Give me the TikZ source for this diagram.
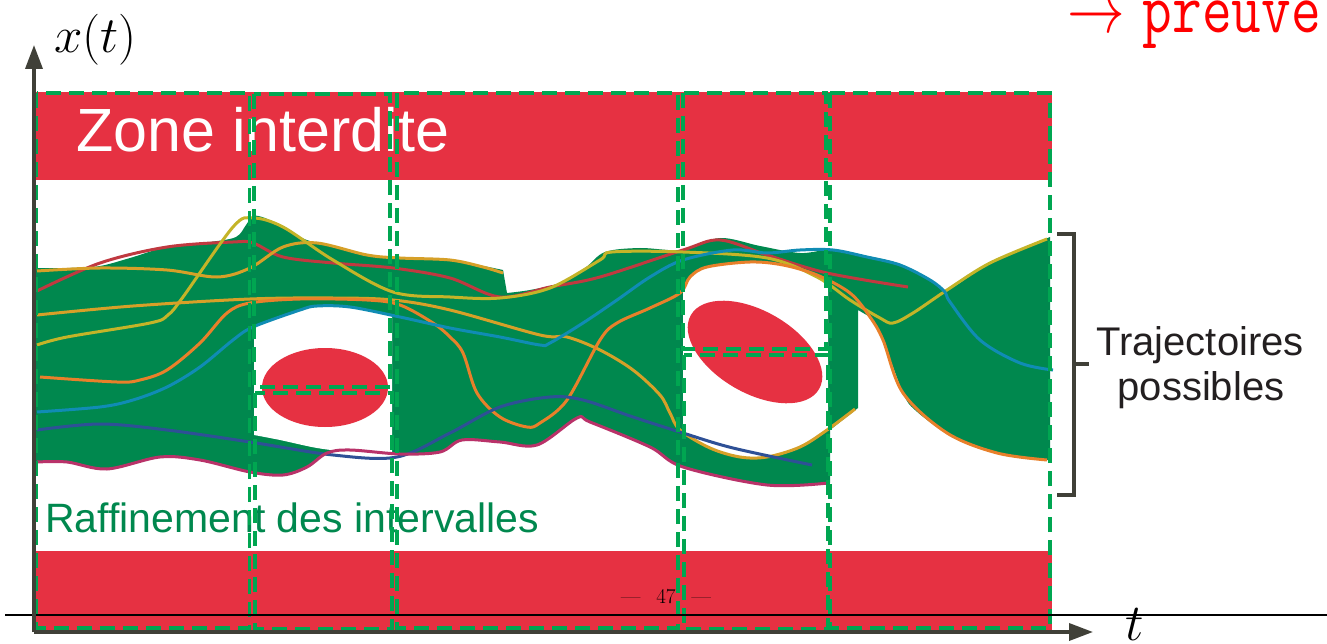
\RequirePackage{fix-cm}
\documentclass[tikz,border=0pt]{standalone}
\usepackage{graphicx}
\usepackage{fontspec}
\newfontfamily\arialf{Liberation Sans}
\usetikzlibrary{arrows.meta}
\definecolor{bandred}{RGB}{230,49,66}
\definecolor{tubegreen}{RGB}{0,136,78}
\definecolor{dashgreen}{RGB}{0,166,81}
\definecolor{axisgray}{RGB}{64,64,56}
\definecolor{txtgray}{RGB}{35,31,32}
\definecolor{cred}{RGB}{192,57,64}
\definecolor{cochre}{RGB}{214,160,40}
\definecolor{cyel}{RGB}{196,180,40}
\definecolor{corange}{RGB}{232,128,42}
\definecolor{cblue}{RGB}{16,140,180}
\definecolor{cnavy}{RGB}{46,80,150}
\definecolor{cmag}{RGB}{185,50,105}
\newcommand\setfs[1]{\fontsize{#1}{#1}\selectfont}
\begin{document}
\begin{tikzpicture}[x=1pt,y=-1pt,
  band/.style={fill=bandred},
  curve/.style={line width=3pt},
  sm/.style={smooth,tension=0.55},
  ibox/.style={draw=dashgreen,line width=3.2pt,dash pattern=on 15pt off 8pt},
  axis/.style={draw=axisgray,line width=3.6pt,-{Triangle[length=24pt,width=17pt]}},
  bracket/.style={draw=axisgray,line width=4.5pt}]
\useasboundingbox (0,0) rectangle (1327,644);
% forbidden zones
\fill[band] (36,92) rectangle (1052,180);
\fill[band] (36,551) rectangle (1052,631);
% tube of trajectories
\fill[tubegreen] plot[sm] coordinates {(36,268) (70,268) (100,266) (130,258) (167,247) (210,242) (236,237) (246,225) (253,216) (265,218) (283,227) (300,237) (317,243) (367,254) (400,258) (450,261) (483,266) (503,270)}
 -- (507,293)
 -- plot[sm] coordinates {(507,293) (530,290) (560,283) (585,268) (605,252) (640,248) (683,250) (720,238) (760,246) (800,253) (830,250) (867,256) (900,264) (930,279) (947,290) (990,263) (1050,237)}
 -- (1050,460)
 -- plot[sm] coordinates {(1047,460) (997,453) (947,433) (915,410) (903,393) (883,340) (870,317)}
 -- (858,310) -- (858,408) -- (830,430) -- (830,483)
 -- plot[sm] coordinates {(828,483) (767,485) (683,467) (650,447) (590,422) (577,418) (537,445) (500,442) (462,440) (440,452) (400,454) (350,450) (327,453) (307,467) (283,475) (250,472) (200,460) (160,457) (107,469) (67,462) (36,462)}
 -- cycle;
% holes
\fill[white] plot[sm] coordinates {(254,328) (275,318) (300,310) (317,306) (350,307) (392,316)}
 -- (392,455) -- plot[sm] coordinates {(392,455) (350,452) (317,448) (280,440) (254,435)} -- cycle;
\fill[white] plot[sm] coordinates {(683,291) (690,277) (707,267) (750,262) (783,265) (817,275) (828,281)}
 -- (828,430) -- plot[sm] coordinates {(828,430) (800,447) (767,457) (740,457) (710,448) (683,433)} -- cycle;
% obstacles
\fill[bandred] (325,387.5) ellipse [x radius=63, y radius=39.5];
\fill[bandred, shift={(755,352)}, rotate=-30] (0,0) ellipse [x radius=74, y radius=41];
% trajectories
\draw[curve,cred] plot[sm] coordinates {(37,291) (100,263) (167,247) (233,242) (253,243) (283,257) (333,263) (393,268) (450,278) (500,297) (550,287) (600,277) (683,250) (720,240) (767,255) (827,273) (908,287)};
\draw[curve,cochre] plot[sm] coordinates {(37,271) (100,268) (167,270) (217,277) (250,268) (283,247) (317,243) (367,255) (400,258) (450,260) (483,267) (503,273)};
\draw[curve,cyel] plot[sm] coordinates {(37,345) (67,337) (150,323) (168,315) (183,297) (233,227) (253,218) (283,227) (333,260) (393,292) (450,297) (500,298) (550,288) (600,260) (612,252) (683,252) (767,258) (817,277) (850,300) (880,318) (893,323) (913,313) (947,290) (990,263) (1047,239)};
\draw[curve,cochre] plot[sm] coordinates {(37,315) (133,306) (250,299) (333,298) (393,300) (450,310) (540,335) (567,337) (600,350) (633,370) (660,395) (670,413) (680,430) (710,448) (740,457) (767,457) (800,447) (827,430) (855,409)};
\draw[curve,corange] plot[sm] coordinates {(40,377) (117,382) (140,380) (167,370) (200,343) (227,313) (250,303) (300,299) (367,300) (400,305) (433,323) (450,337) (463,353) (477,393) (500,417) (527,427) (540,423) (567,400) (600,340) (617,323) (650,308) (680,293) (690,277) (707,267) (750,262) (783,265) (817,275) (850,293) (870,317) (883,340) (903,393) (947,433) (997,453) (1047,460)};
\draw[curve,cblue] plot[sm] coordinates {(37,412) (100,407) (133,400) (167,387) (200,367) (233,340) (253,327) (300,310) (317,306) (350,307) (400,317) (450,328) (500,337) (540,345) (550,343) (583,323) (617,300) (650,277) (683,260) (733,250) (767,253) (800,250) (833,250) (867,257) (900,265) (930,280) (945,292) (950,302) (980,340) (1020,363) (1053,370)};
\draw[curve,cnavy] plot[sm] coordinates {(37,430) (100,424) (167,430) (250,442) (333,455) (397,457) (450,433) (500,407) (550,397) (583,400) (633,417) (683,433) (733,448) (812,465)};
\draw[curve,cmag] plot[sm] coordinates {(37,462) (67,462) (107,469) (160,457) (200,460) (250,472) (283,475) (307,467) (327,453) (350,450) (400,454) (440,452) (462,440) (500,442) (537,445) (577,418) (590,422) (650,447) (683,467) (767,485) (828,483)};
% texts
\node[anchor=base west,inner sep=0pt,text=white,font=\arialf\setfs{61}] (zone) at (76,152) {Zone interdite};
\node[anchor=base west,inner sep=0pt,text=tubegreen,font=\arialf\setfs{41}] (raff) at (45,532) {Raffinement des intervalles};
\node[anchor=base,inner sep=0pt,text=txtgray,font=\arialf\setfs{40}] (traj1) at (1200,355) {Trajectoires};
\node[anchor=base,inner sep=0pt,text=txtgray,font=\arialf\setfs{40}] (traj2) at (1201,400) {possibles};
% interval boxes
\draw[ibox] (36.5,93) rectangle (249.5,628);
\draw[ibox] (254,94) rectangle (390,387);
\draw[ibox] (255,393) rectangle (392,629);
\draw[ibox] (397,93) rectangle (678,628);
\draw[ibox] (683,93) rectangle (826,349);
\draw[ibox] (684,355) rectangle (828,629);
\draw[ibox] (830,93) rectangle (1050,628);
% bracket
\draw[bracket] (1057,234) -- (1074,234) -- (1074,495) -- (1057,495);
\draw[bracket] (1074,364) -- (1089,364);
% footer line and page number
\draw[line width=2pt,black] (5,615) -- (1327,615);
\node[anchor=base,inner sep=0pt,font=\setfs{21}] (page) at (666,603) {\textemdash\hspace{16pt}47\hspace{16pt}\textemdash};
% axes
\coordinate (O) at (34,632);
\coordinate (Ytip) at (34,45);
\coordinate (Xtip) at (1093,632);
\draw[axis] (O) -- (Ytip);
\draw[axis] (O) -- (Xtip);
\node[anchor=base west,inner sep=0pt,font=\setfs{51}] (xt) at (54,53) {$x(t)$};
\node[anchor=base west,inner sep=0pt,font=\setfs{52}] (tlab) at (1125,640) {$t$};
\node[anchor=base east,inner sep=0pt,text=red,font=\setfs{72}] (preuve) at (1321,33) {\scalebox{0.8}[1]{$\rightarrow$ \texttt{preuve}}};
\end{tikzpicture}
\end{document}
